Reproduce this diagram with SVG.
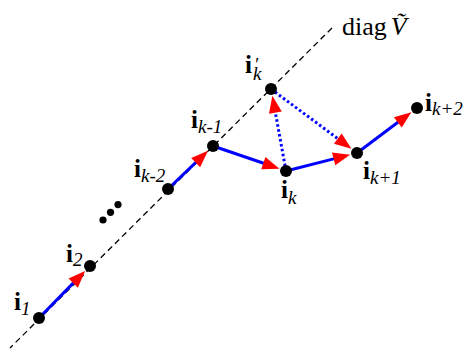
<svg xmlns="http://www.w3.org/2000/svg" width="463" height="349" viewBox="0 0 463 349">
<style>
text,tspan{font-family:"Liberation Serif","Times New Roman",serif}
text{fill:#000}
.lb{font-size:25px}
.b{font-weight:bold}
.s{font-size:19px;font-style:italic;font-weight:normal}
.axis{stroke:#000;stroke-width:1.3;stroke-dasharray:6 4;fill:none}
.e{stroke:#0000ff;stroke-width:3;fill:none}
.d{stroke:#0000ff;stroke-width:3;stroke-dasharray:2.5 2.5;fill:none}
.n{fill:#000}
</style>
<defs>
<marker id="ah" markerUnits="userSpaceOnUse" markerWidth="17" markerHeight="13" refX="1" refY="6.5" orient="auto" overflow="visible">
<path d="M0,0 L17,6.5 L0,13 z" fill="#ff0000"/>
</marker>
</defs>
<line class="axis" x1="332" y1="28" x2="10" y2="348"/>
<g id="connectors">
<line class="e" x1="39" y1="318" x2="73.9" y2="282.4" marker-end="url(#ah)"/>
<line class="e" x1="168" y1="189" x2="196.4" y2="161.9" marker-end="url(#ah)"/>
<line class="e" x1="213" y1="146" x2="264.3" y2="163.5" marker-end="url(#ah)"/>
<line class="e" x1="286" y1="171" x2="334.6" y2="158.6" marker-end="url(#ah)"/>
<line class="e" x1="357" y1="153" x2="398.6" y2="121.8" marker-end="url(#ah)"/>
<line class="d" x1="286" y1="171" x2="275.2" y2="111.6" marker-end="url(#ah)"/>
<line class="d" x1="271" y1="89" x2="338.6" y2="139.2" marker-end="url(#ah)"/>
</g>
<g id="dots">
<circle class="n" cx="103" cy="220" r="3.6"/>
<circle class="n" cx="110.5" cy="212.3" r="3.6"/>
<circle class="n" cx="118" cy="204.6" r="3.6"/>
</g>
<g id="n1"><circle class="n" cx="39" cy="318" r="6"/><text class="lb" x="14" y="310"><tspan class="b">i</tspan><tspan class="s" dy="5">1</tspan></text></g>
<g id="n2"><circle class="n" cx="90" cy="266" r="6"/><text class="lb" x="66" y="262"><tspan class="b">i</tspan><tspan class="s" dy="4">2</tspan></text></g>
<g id="nkm2"><circle class="n" cx="168" cy="189" r="6"/><text class="lb" x="134" y="177"><tspan class="b">i</tspan><tspan class="s" dy="5">k-2</tspan></text></g>
<g id="nkm1"><circle class="n" cx="213" cy="146" r="6"/><text class="lb" x="191" y="128"><tspan class="b">i</tspan><tspan class="s" dy="5">k-1</tspan></text></g>
<g id="nkp"><circle class="n" cx="271" cy="89" r="6"/><text class="lb" x="245" y="73"><tspan class="b">i</tspan><tspan class="s" x="254" y="71" font-style="normal">′</tspan><tspan class="s" x="253" y="80">k</tspan></text></g>
<g id="nk"><circle class="n" cx="286" cy="171" r="6"/><text class="lb" x="281" y="198"><tspan class="b">i</tspan><tspan class="s" dy="6">k</tspan></text></g>
<g id="nkp1"><circle class="n" cx="357" cy="153" r="6"/><text class="lb" x="363" y="179"><tspan class="b">i</tspan><tspan class="s" dy="5">k+1</tspan></text></g>
<g id="nkp2"><circle class="n" cx="417" cy="108" r="6"/><text class="lb" x="425" y="111"><tspan class="b">i</tspan><tspan class="s" dy="4">k+2</tspan></text></g>
<g id="diag"><text x="342" y="35" font-size="26">diag<tspan font-style="italic" dx="4">Ṽ</tspan></text></g>
</svg>
